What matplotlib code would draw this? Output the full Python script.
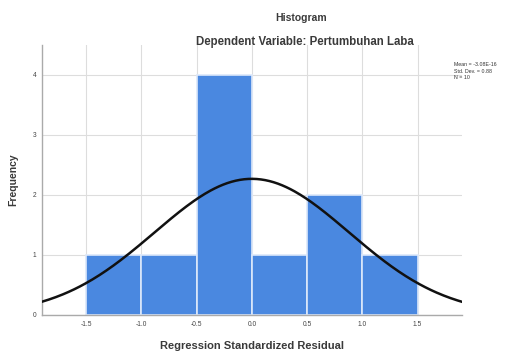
import matplotlib
matplotlib.use('Agg')
import matplotlib.pyplot as plt
import numpy as np

# residual histogram
bin_edges = [-1.5, -1.0, -0.5, 0.0, 0.5, 1.0, 1.5]
counts = [1, 1, 4, 1, 2, 1]
x_ticks = [-1.5, -1.0, -0.5, 0.0, 0.5, 1.0, 1.5]
x_tick_labels = ['-1.5', '-1.0', '-0.5', '0.0', '0.5', '1.0', '1.5']
y_ticks = [0, 1, 2, 3, 4]

# normal curve parameters
mean = 0.0
std_dev = 0.88
n = 10
stats_lines = ['Mean = -3.08E-16', 'Std. Dev. = 0.88', 'N = 10']

plt.rcParams['font.family'] = ['Liberation Sans', 'DejaVu Sans']
text_color = '#3a3a3a'

fig = plt.figure(figsize=(5.23, 3.51), dpi=100)
ax = fig.add_axes([0.080, 0.1026, 0.803, 0.77])

lefts = bin_edges[:-1]
widths = np.diff(bin_edges)
ax.bar(lefts, counts, width=widths, align='edge', color='#4a88e0',
       edgecolor='#dce8fa', linewidth=1.2, zorder=2)

bw = widths[0]
xs = np.linspace(-1.9, 1.9, 300)
ys = n * bw / (std_dev * np.sqrt(2 * np.pi)) * np.exp(-0.5 * ((xs - mean) / std_dev) ** 2)
ax.plot(xs, ys, color='#111111', linewidth=1.8, zorder=3)

ax.set_xlim(-1.9, 1.9)
ax.set_ylim(0, 4.5)
ax.set_xticks(x_ticks)
ax.set_xticklabels(x_tick_labels)
ax.set_yticks(y_ticks)
ax.tick_params(axis='both', labelsize=4.8, length=0, pad=4, colors='#444444')
ax.grid(True, color='#dddddd', linewidth=0.8, zorder=0)
ax.set_axisbelow(True)

for side in ['top', 'right']:
    ax.spines[side].set_visible(False)
for side in ['left', 'bottom']:
    ax.spines[side].set_color('#aaaaaa')
    ax.spines[side].set_linewidth(1.0)

ax.set_ylabel('Frequency', fontsize=7.5, fontweight='semibold', color=text_color, labelpad=10)
ax.set_xlabel('Regression Standardized Residual', fontsize=8, fontweight='semibold',
              color=text_color, labelpad=10)

fig.text(0.576, 0.948, 'Histogram', ha='center', va='center', fontsize=7.5,
         fontweight='semibold', color=text_color)
fig.text(0.582, 0.88, 'Dependent Variable: Pertumbuhan Laba', ha='center', va='center',
         fontsize=8.3, fontweight='semibold', color=text_color)

fig.text(0.868, 0.822, '\n'.join(stats_lines), ha='left', va='top', fontsize=3.8,
         color='#333333', linespacing=1.3)

fig.savefig('out.png', dpi=100)
